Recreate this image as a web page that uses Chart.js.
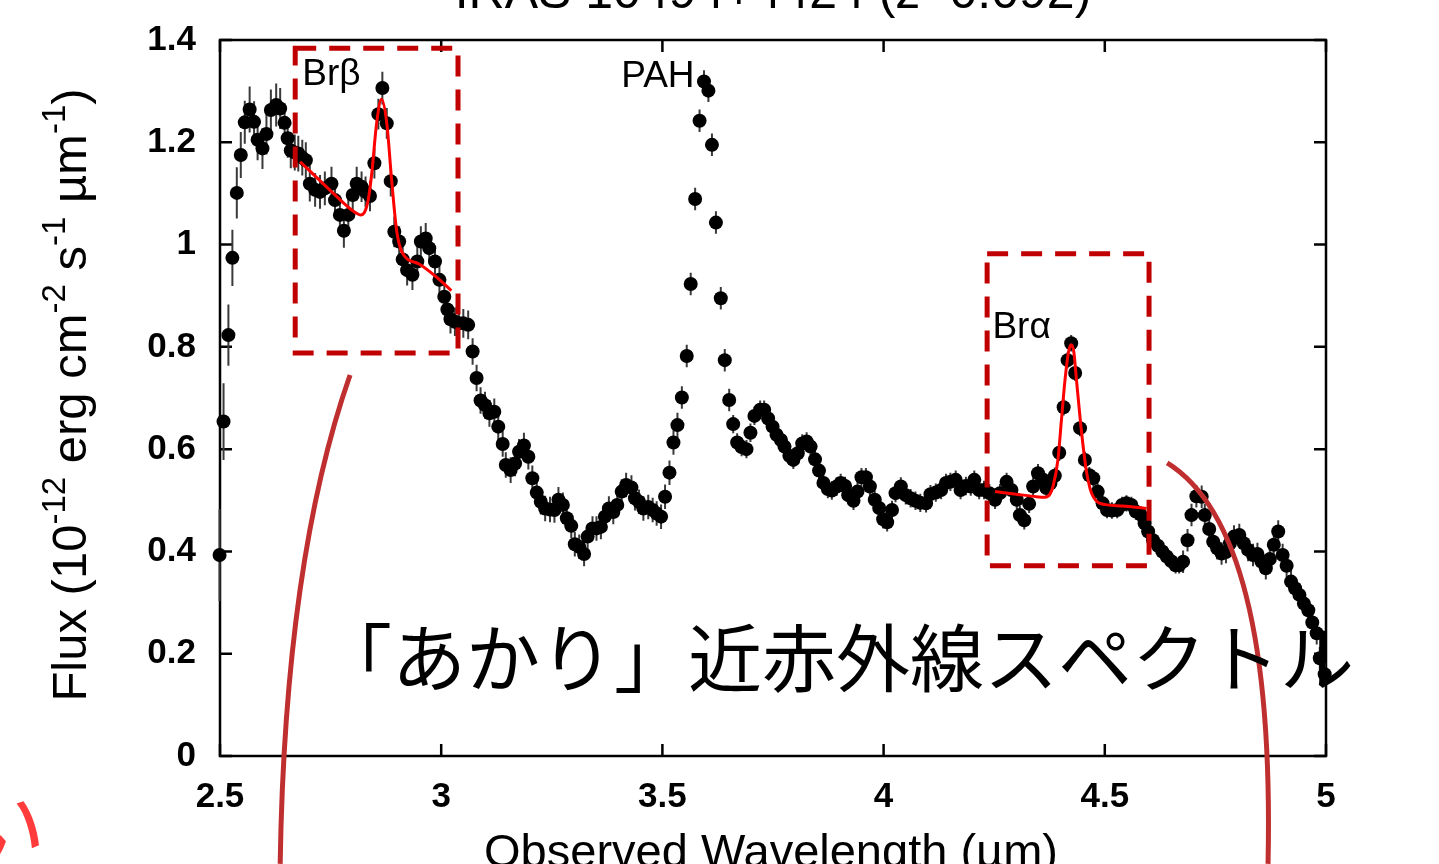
<!DOCTYPE html>
<html>
<head>
<meta charset="utf-8">
<script src="https://cdn.jsdelivr.net/npm/chart.js@4.4.1/dist/chart.umd.min.js"></script>
<style>
html, body { margin: 0; padding: 0; background: #fff; overflow: hidden; }
#wrap { width: 1439px; height: 864px; }
</style>
</head>
<body>
<div id="wrap"><canvas id="spec" width="1439" height="864"></canvas></div>
<script>
// AKARI near-infrared spectrum, observed wavelength (um) vs flux
const wavelength = [
  2.499,2.508,2.519,2.528,2.538,2.547,2.556,2.567,2.577,2.585,
  2.596,2.605,2.615,2.627,2.636,2.646,2.653,2.660,2.669,2.677,
  2.686,2.694,2.703,2.715,2.726,2.737,2.752,2.760,2.771,2.780,
  2.790,2.800,2.809,2.820,2.829,2.839,2.849,2.858,2.867,2.877,
  2.886,2.894,2.905,2.913,2.923,2.935,2.946,2.954,2.965,2.973,
  2.986,2.996,3.007,3.014,3.021,3.031,3.040,3.050,3.061,3.071,
  3.080,3.089,3.099,3.109,3.120,3.129,3.139,3.146,3.157,3.167,
  3.176,3.187,3.197,3.206,3.216,3.225,3.235,3.246,3.256,3.265,
  3.275,3.284,3.294,3.302,3.312,3.323,3.331,3.342,3.351,3.361,
  3.370,3.379,3.389,3.398,3.408,3.418,3.430,3.438,3.447,3.457,
  3.468,3.478,3.487,3.497,3.506,3.516,3.525,3.534,3.544,3.555,
  3.564,3.574,3.584,3.594,3.604,3.612,3.621,3.632,3.641,3.651,
  3.660,3.669,3.679,3.690,3.699,3.708,3.721,3.730,3.739,3.749,
  3.758,3.768,3.776,3.787,3.796,3.806,3.816,3.826,3.835,3.845,
  3.854,3.864,3.874,3.883,3.894,3.903,3.913,3.920,3.932,3.941,
  3.950,3.960,3.969,3.980,3.990,3.999,4.008,4.019,4.027,4.039,
  4.050,4.061,4.072,4.083,4.096,4.106,4.118,4.130,4.141,4.151,
  4.163,4.174,4.186,4.197,4.205,4.216,4.227,4.239,4.252,4.263,
  4.278,4.289,4.301,4.308,4.318,4.329,4.338,4.349,4.359,4.368,
  4.377,4.387,4.397,4.407,4.416,4.424,4.433,4.444,4.455,4.465,
  4.474,4.484,4.495,4.505,4.516,4.528,4.539,4.549,4.560,4.570,
  4.581,4.590,4.598,4.609,4.620,4.630,4.640,4.650,4.660,4.668,
  4.677,4.687,4.696,4.707,4.719,4.726,4.736,4.745,4.754,4.764,
  4.774,4.783,4.792,4.804,4.814,4.824,4.835,4.845,4.854,4.864,
  4.873,4.882,4.892,4.902,4.911,4.921,4.930,4.940,4.950,4.960,
  4.969,4.979,4.986,4.997
];
const flux = [
  0.393,0.654,0.823,0.974,1.101,1.175,1.239,1.264,1.240,1.205,
  1.188,1.216,1.263,1.273,1.266,1.238,1.208,1.184,1.180,1.178,
  1.170,1.165,1.119,1.107,1.103,1.110,1.119,1.087,1.058,1.027,
  1.058,1.097,1.119,1.113,1.103,1.095,1.159,1.255,1.306,1.237,
  1.124,1.025,1.006,0.971,0.950,0.941,0.967,1.006,1.012,0.993,
  0.967,0.931,0.898,0.873,0.854,0.849,0.846,0.846,0.843,0.791,
  0.739,0.695,0.686,0.670,0.673,0.644,0.610,0.569,0.559,0.572,
  0.595,0.607,0.585,0.543,0.515,0.497,0.484,0.482,0.481,0.501,
  0.491,0.465,0.450,0.414,0.409,0.395,0.429,0.445,0.445,0.448,
  0.468,0.484,0.477,0.491,0.517,0.530,0.525,0.504,0.497,0.484,
  0.487,0.481,0.474,0.468,0.507,0.554,0.613,0.647,0.701,0.782,
  0.923,1.089,1.242,1.319,1.301,1.195,1.043,0.895,0.774,0.696,
  0.649,0.613,0.604,0.600,0.632,0.665,0.677,0.677,0.660,0.644,
  0.628,0.618,0.605,0.587,0.579,0.592,0.611,0.615,0.605,0.580,
  0.558,0.534,0.522,0.519,0.527,0.534,0.528,0.510,0.499,0.517,
  0.545,0.545,0.527,0.501,0.485,0.463,0.457,0.481,0.514,0.527,
  0.510,0.504,0.499,0.495,0.494,0.512,0.515,0.520,0.534,0.536,
  0.540,0.520,0.528,0.527,0.540,0.520,0.520,0.514,0.501,0.514,
  0.536,0.520,0.501,0.471,0.461,0.493,0.527,0.553,0.541,0.524,
  0.533,0.548,0.593,0.682,0.774,0.807,0.749,0.641,0.579,0.549,
  0.543,0.517,0.494,0.481,0.480,0.481,0.491,0.494,0.491,0.478,
  0.472,0.455,0.439,0.422,0.411,0.400,0.390,0.381,0.373,0.373,
  0.380,0.422,0.471,0.508,0.507,0.471,0.444,0.419,0.406,0.396,
  0.399,0.416,0.429,0.432,0.416,0.403,0.393,0.395,0.380,0.367,
  0.385,0.413,0.439,0.393,0.372,0.341,0.328,0.315,0.298,0.285,
  0.261,0.240,0.191,0.160
];
const fluxErr = [
  0.090,0.075,0.060,0.055,0.050,0.045,0.042,0.045,0.040,0.040,
  0.040,0.040,0.040,0.042,0.040,0.038,0.038,0.035,0.035,0.035,
  0.035,0.035,0.035,0.033,0.033,0.033,0.033,0.033,0.033,0.033,
  0.033,0.033,0.033,0.030,0.030,0.030,0.030,0.030,0.032,0.030,
  0.030,0.030,0.030,0.030,0.030,0.030,0.030,0.030,0.030,0.030,
  0.028,0.028,0.028,0.028,0.028,0.028,0.028,0.028,0.028,0.026,
  0.026,0.026,0.026,0.026,0.026,0.026,0.025,0.025,0.025,0.025,
  0.025,0.025,0.025,0.025,0.025,0.025,0.025,0.025,0.025,0.025,
  0.024,0.024,0.024,0.024,0.024,0.024,0.024,0.024,0.024,0.024,
  0.024,0.024,0.024,0.024,0.024,0.024,0.024,0.024,0.024,0.024,
  0.024,0.024,0.024,0.024,0.024,0.024,0.024,0.024,0.022,0.022,
  0.022,0.022,0.022,0.022,0.022,0.022,0.022,0.022,0.022,0.022,
  0.018,0.018,0.018,0.018,0.018,0.018,0.018,0.018,0.018,0.018,
  0.018,0.018,0.018,0.018,0.018,0.018,0.018,0.018,0.018,0.018,
  0.018,0.018,0.018,0.018,0.018,0.018,0.018,0.018,0.018,0.018,
  0.018,0.018,0.018,0.018,0.018,0.018,0.018,0.018,0.018,0.018,
  0.018,0.018,0.018,0.018,0.018,0.018,0.018,0.018,0.018,0.018,
  0.018,0.018,0.018,0.018,0.018,0.018,0.018,0.018,0.018,0.018,
  0.018,0.018,0.018,0.018,0.018,0.018,0.018,0.018,0.018,0.018,
  0.016,0.016,0.016,0.016,0.016,0.016,0.016,0.016,0.016,0.016,
  0.016,0.016,0.016,0.016,0.016,0.016,0.016,0.016,0.016,0.016,
  0.016,0.016,0.016,0.016,0.016,0.016,0.016,0.016,0.016,0.016,
  0.022,0.022,0.022,0.022,0.022,0.022,0.022,0.022,0.022,0.022,
  0.022,0.022,0.022,0.022,0.022,0.022,0.022,0.022,0.022,0.022,
  0.022,0.022,0.022,0.022,0.022,0.022,0.022,0.022,0.022,0.022,
  0.022,0.022,0.022,0.022
];

// line fits
const brBetaFitX = [2.681,2.720,2.760,2.790,2.809,2.818,2.826,2.835,2.843,2.854,2.865,2.877,2.888,2.899,2.911,2.950,2.990,3.023];
const brBetaFitY = [1.162,1.130,1.097,1.073,1.061,1.058,1.062,1.087,1.139,1.237,1.284,1.237,1.126,1.029,0.986,0.962,0.936,0.910];
const brAlphaFitX = [4.252,4.300,4.345,4.365,4.376,4.383,4.394,4.402,4.410,4.418,4.424,4.430,4.436,4.447,4.458,4.467,4.474,4.489,4.540,4.594];
const brAlphaFitY = [0.517,0.512,0.507,0.506,0.512,0.527,0.579,0.657,0.735,0.790,0.804,0.790,0.735,0.637,0.559,0.522,0.507,0.494,0.489,0.484];

const xTicks = [2.5, 3, 3.5, 4, 4.5, 5];
const yTicks = [0, 0.2, 0.4, 0.6, 0.8, 1, 1.2, 1.4];

// annotations in data units
const lineNames = ['Br\u03b2', 'PAH', 'Br\u03b1'];
const lineNameX = [2.686, 3.407, 4.246];
const lineNameY = [1.312, 1.308, 0.817];
const boxX0 = [2.670, 4.234];
const boxX1 = [3.038, 4.600];
const boxY0 = [0.788, 0.372];
const boxY1 = [1.384, 0.982];
// zoom-out connectors as quadratic curves: start, control, end
const connX = [[2.794, 2.647, 2.636], [4.641, 4.885, 4.869]];
const connY = [[0.745, 0.383, -0.211], [0.573, 0.442, -0.211]];

const FONT = '"Liberation Sans", Arial, Helvetica, sans-serif';
const CJK = '"Noto Sans CJK JP", "Noto Sans CJK SC", sans-serif';

const framePlugin = {
  id: 'frame',
  beforeDatasetsDraw(chart) {
    const { ctx, chartArea: a, scales: { x, y } } = chart;
    ctx.save();
    ctx.strokeStyle = '#000';
    ctx.lineWidth = 2.5;
    ctx.strokeRect(a.left, a.top, a.right - a.left, a.bottom - a.top);
    const tl = 12;
    ctx.beginPath();
    xTicks.forEach(v => {
      const px = x.getPixelForValue(v);
      ctx.moveTo(px, a.bottom); ctx.lineTo(px, a.bottom - tl);
      ctx.moveTo(px, a.top); ctx.lineTo(px, a.top + tl);
    });
    yTicks.forEach(v => {
      const py = y.getPixelForValue(v);
      ctx.moveTo(a.left, py); ctx.lineTo(a.left + tl, py);
      ctx.moveTo(a.right, py); ctx.lineTo(a.right - tl, py);
    });
    ctx.stroke();

    // error bars
    ctx.strokeStyle = '#3a3a3a';
    ctx.lineWidth = 2;
    ctx.beginPath();
    wavelength.forEach((w, i) => {
      const px = x.getPixelForValue(w);
      ctx.moveTo(px, y.getPixelForValue(flux[i] - fluxErr[i]));
      ctx.lineTo(px, y.getPixelForValue(flux[i] + fluxErr[i]));
    });
    ctx.stroke();
    ctx.restore();
  }
};

const notesPlugin = {
  id: 'notes',
  afterDraw(chart) {
    const { ctx, scales: { x, y } } = chart;
    ctx.save();

    // dashed boxes
    ctx.strokeStyle = '#c00000';
    ctx.lineWidth = 5;
    ctx.setLineDash([21, 13]);
    boxX0.forEach((b, i) => {
      const l = x.getPixelForValue(b), r = x.getPixelForValue(boxX1[i]);
      const t = y.getPixelForValue(boxY1[i]), btm = y.getPixelForValue(boxY0[i]);
      ctx.strokeRect(l, t, r - l, btm - t);
    });
    ctx.setLineDash([]);

    // connector curves
    ctx.strokeStyle = '#bf2f2f';
    ctx.lineWidth = 5;
    connX.forEach((cx, i) => {
      const cy = connY[i];
      ctx.beginPath();
      ctx.moveTo(x.getPixelForValue(cx[0]), y.getPixelForValue(cy[0]));
      ctx.quadraticCurveTo(x.getPixelForValue(cx[1]), y.getPixelForValue(cy[1]),
                           x.getPixelForValue(cx[2]), y.getPixelForValue(cy[2]));
      ctx.stroke();
    });

    // line labels
    ctx.fillStyle = '#000';
    ctx.textBaseline = 'alphabetic';
    ctx.textAlign = 'left';
    lineNames.forEach((n, i) => {
      ctx.font = (n === 'PAH' ? '37px ' : '37px ') + FONT;
      ctx.fillText(n, x.getPixelForValue(lineNameX[i]), y.getPixelForValue(lineNameY[i]));
    });

    // title (cut off at the top of the picture)
    ctx.textAlign = 'center';
    ctx.font = '50px ' + FONT;
    ctx.fillText('IRAS 10494+4424 (z=0.092)', 773, 8);

    // x axis title
    ctx.font = '47px ' + FONT;
    ctx.fillText('Observed Wavelength (\u00b5m)', 771, 867);

    // y axis title with superscripts
    const parts = [
      ['Flux (10', 0], ['-12', 1], [' erg cm', 0], ['-2', 1], [' s', 0],
      ['-1', 1], [' \u00b5m', 0], ['-1', 1], [')', 0]
    ];
    const big = '49px ' + FONT, small = '33px ' + FONT;
    let total = 0;
    parts.forEach(p => { ctx.font = p[1] ? small : big; total += ctx.measureText(p[0]).width; });
    ctx.save();
    ctx.translate(86, 395);
    ctx.rotate(-Math.PI / 2);
    ctx.textAlign = 'left';
    let cur = -total / 2;
    parts.forEach(p => {
      ctx.font = p[1] ? small : big;
      ctx.fillText(p[0], cur, p[1] ? -21 : 0);
      cur += ctx.measureText(p[0]).width;
    });
    ctx.restore();

    // Japanese caption
    ctx.textAlign = 'left';
    ctx.font = '74px ' + CJK;
    ctx.fillStyle = '#000';
    ctx.fillText('\u300cあかり\u300d近赤外線スペクトル', 318, 686);

    // red fragment in the lower-left corner
    ctx.font = '88px ' + CJK;
    ctx.fillStyle = '#ff3b3b';
    ctx.fillText('い', -42, 860);

    ctx.restore();
  }
};

const spectrum = wavelength.map((w, i) => ({ x: w, y: flux[i] }));

new Chart(document.getElementById('spec'), {
  type: 'scatter',
  data: {
    datasets: [
      {
        type: 'line',
        data: brBetaFitX.map((v, i) => ({ x: v, y: brBetaFitY[i] })),
        borderColor: '#ff0000', borderWidth: 3, pointRadius: 0,
        cubicInterpolationMode: 'monotone', fill: false
      },
      {
        type: 'line',
        data: brAlphaFitX.map((v, i) => ({ x: v, y: brAlphaFitY[i] })),
        borderColor: '#ff0000', borderWidth: 3, pointRadius: 0,
        cubicInterpolationMode: 'monotone', fill: false
      },
      {
        data: spectrum,
        pointRadius: 7,
        pointBackgroundColor: '#000',
        pointBorderColor: '#000',
        pointBorderWidth: 0,
        clip: false
      }
    ]
  },
  options: {
    responsive: false,
    animation: false,
    devicePixelRatio: 1,
    layout: { padding: { top: 40, right: 113, left: 0, bottom: 0 } },
    plugins: { legend: { display: false }, tooltip: { enabled: false } },
    scales: {
      x: {
        type: 'linear', min: 2.5, max: 5,
        afterBuildTicks: s => { s.ticks = xTicks.map(v => ({ value: v })); },
        afterFit: s => { s.height = 108; s.paddingLeft = 0; s.paddingRight = 0; },
        ticks: {
          color: '#000', padding: 20, maxRotation: 0, autoSkip: false,
          font: { family: FONT, size: 35, weight: 'bold' },
          callback: v => String(v)
        },
        grid: { display: false, drawTicks: false },
        border: { display: false }
      },
      y: {
        min: 0, max: 1.4,
        afterBuildTicks: s => { s.ticks = yTicks.map(v => ({ value: v })); },
        afterFit: s => { s.width = 220; s.paddingTop = 0; s.paddingBottom = 0; },
        ticks: {
          color: '#000', padding: 24, autoSkip: false,
          font: { family: FONT, size: 35, weight: 'bold' },
          callback: v => String(v)
        },
        grid: { display: false, drawTicks: false },
        border: { display: false }
      }
    }
  },
  plugins: [framePlugin, notesPlugin]
});
</script>
</body>
</html>
